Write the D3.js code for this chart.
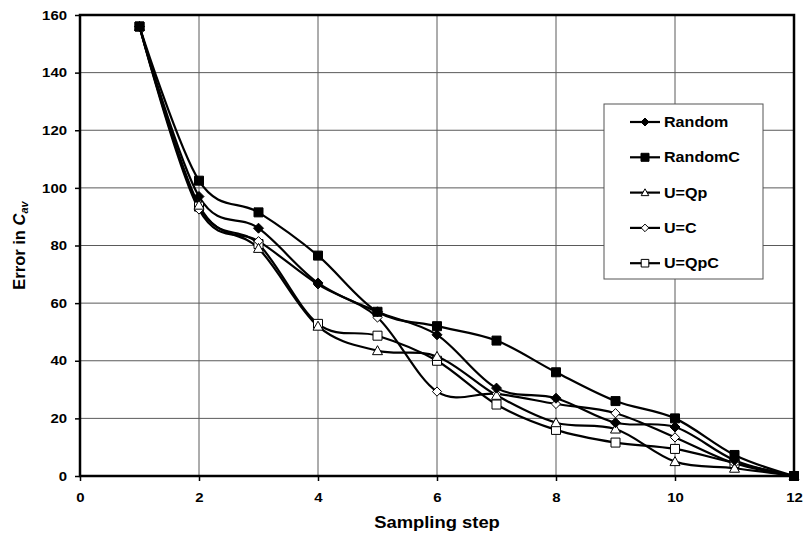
<!DOCTYPE html>
<html>
<head>
<meta charset="utf-8">
<script src="https://cdn.jsdelivr.net/npm/d3@7"></script>
<style>
  body { margin: 0; background: #fff; }
  svg text { font-family: Arial, "Liberation Sans", sans-serif; font-weight: bold; }
</style>
</head>
<body>
<div id="chart"></div>
<script>
const steps = [1, 2, 3, 4, 5, 6, 7, 8, 9, 10, 11, 12]
const randomVals = [156, 97, 86, 67, 57, 49, 30.5, 27, 18.5, 17, 5.5, 0]
const randomCVals = [156, 102.5, 91.5, 76.5, 57, 52, 47, 36, 26, 20, 7.3, 0]
const uQpVals = [156, 94, 79, 52, 43.5, 41.5, 28, 18.5, 16.3, 5, 2.7, 0]
const uCVals = [156, 92.5, 81.5, 66.5, 55, 29.3, 28.5, 25, 21.8, 13.4, 4.4, 0]
const uQpCVals = [156, 93.5, 80.5, 52.8, 48.7, 40, 24.8, 16, 11.6, 9.4, 4.5, 0]
const xTicks = [0, 2, 4, 6, 8, 10, 12]
const yTicks = [0, 20, 40, 60, 80, 100, 120, 140, 160]

const series = [
  { name: 'Random', values: randomVals, marker: 'diamond', filled: true },
  { name: 'RandomC', values: randomCVals, marker: 'square', filled: true },
  { name: 'U=Qp', values: uQpVals, marker: 'triangle', filled: false },
  { name: 'U=C', values: uCVals, marker: 'diamond', filled: false },
  { name: 'U=QpC', values: uQpCVals, marker: 'square', filled: false },
]

const width = 804
const height = 535
const margin = { left: 80, right: 10, top: 15, bottom: 59 }
// the original picture's text is a bit wider than plain Arial
const stretch = 1.15

const svg = d3.select('#chart').append('svg')
  .attr('width', width)
  .attr('height', height)

const x = d3.scaleLinear().domain([0, 12]).range([margin.left, width - margin.right])
const y = d3.scaleLinear().domain([0, 160]).range([height - margin.bottom, margin.top])

// grid
const grid = svg.append('g').attr('stroke', '#5a5a5a').attr('stroke-width', 1)
grid.selectAll('.gx').data(xTicks.slice(1, -1)).enter().append('line')
  .attr('x1', d => x(d)).attr('x2', d => x(d))
  .attr('y1', y(160)).attr('y2', y(0))
grid.selectAll('.gy').data(yTicks.slice(1, -1)).enter().append('line')
  .attr('x1', x(0)).attr('x2', x(12))
  .attr('y1', d => y(d)).attr('y2', d => y(d))

// axes
const xAxis = d3.axisBottom(x).tickValues(xTicks).tickSize(5)
const yAxis = d3.axisLeft(y).tickValues(yTicks).tickSize(5)

const gx = svg.append('g').attr('transform', `translate(0,${y(0)})`).call(xAxis)
const gy = svg.append('g').attr('transform', `translate(${x(0)},0)`).call(yAxis)
;[gx, gy].forEach(g => {
  g.select('.domain').remove()
  g.selectAll('.tick line').attr('stroke', '#000').attr('stroke-width', 1.5)
  g.selectAll('text').attr('font-size', 13).attr('fill', '#000')
    .style('font-family', 'Arial, "Liberation Sans", sans-serif').style('font-weight', 'bold')
    .attr('transform', `scale(${stretch},1)`)
})
gx.selectAll('text').attr('y', 17).attr('dy', '0.71em')
gy.selectAll('text').attr('x', -13 / stretch)

// plot frame
svg.append('rect')
  .attr('x', x(0)).attr('y', y(160))
  .attr('width', x(12) - x(0)).attr('height', y(0) - y(160))
  .attr('fill', 'none').attr('stroke', '#000').attr('stroke-width', 2.5)

// axis titles
svg.append('text')
  .attr('transform', `translate(${(x(0) + x(12)) / 2},528) scale(${stretch},1)`)
  .attr('text-anchor', 'middle').attr('font-size', 16)
  .text('Sampling step')

const yTitle = svg.append('text')
  .attr('transform', `translate(25,${(y(0) + y(160)) / 2}) rotate(-90)`)
  .attr('text-anchor', 'middle').attr('font-size', 16.5)
yTitle.append('tspan').text('Error in ')
yTitle.append('tspan').attr('font-style', 'italic').text('C')
yTitle.append('tspan').attr('font-style', 'italic').attr('font-size', 11).attr('dy', 3).text('av')

// marker path builder
function markerPath(type, s) {
  if (type === 'diamond') return `M0,${-s}L${s},0L0,${s}L${-s},0Z`
  if (type === 'square') return `M${-s},${-s}H${s}V${s}H${-s}Z`
  return `M0,${-s}L${s},${s * 0.8}L${-s},${s * 0.8}Z`
}
function markerSize(d) {
  if (d.marker === 'diamond') return d.filled ? 5 : 4.6
  if (d.marker === 'square') return 4.5
  return 5
}

const line = d3.line()
  .x((d, i) => x(steps[i]))
  .y(d => y(d))
  .curve(d3.curveCardinal.tension(0))

const seriesG = svg.append('g')
seriesG.selectAll('.line').data(series).enter().append('path')
  .attr('class', 'line')
  .attr('d', d => line(d.values))
  .attr('fill', 'none').attr('stroke', '#000').attr('stroke-width', 2.2)

// hollow markers first so the filled ones sit on top
series.slice().reverse().forEach(s => {
  seriesG.append('g').selectAll('path')
    .data(s.values).enter().append('path')
    .attr('transform', (d, i) => `translate(${x(steps[i])},${y(d)})`)
    .attr('d', markerPath(s.marker, markerSize(s)))
    .attr('fill', s.filled ? '#000' : '#fff')
    .attr('stroke', '#000').attr('stroke-width', 1)
})

// legend
const legend = svg.append('g').attr('transform', 'translate(604,104)')
legend.append('rect')
  .attr('width', 159).attr('height', 175)
  .attr('fill', '#fff').attr('stroke', '#555').attr('stroke-width', 1)

const item = legend.selectAll('.item').data(series).enter().append('g')
  .attr('transform', (d, i) => `translate(0,${18 + i * 35.3})`)
item.append('line')
  .attr('x1', 26).attr('x2', 56).attr('stroke', '#000').attr('stroke-width', 2.2)
item.append('path')
  .attr('transform', 'translate(41,0)')
  .attr('d', d => markerPath(d.marker, d.filled ? 4 : 3.8))
  .attr('fill', d => d.filled ? '#000' : '#fff')
  .attr('stroke', '#000').attr('stroke-width', 1)
item.append('text')
  .attr('transform', `translate(60,0) scale(${stretch},1)`)
  .attr('dy', '0.35em').attr('font-size', 14)
  .text(d => d.name)
</script>
</body>
</html>
